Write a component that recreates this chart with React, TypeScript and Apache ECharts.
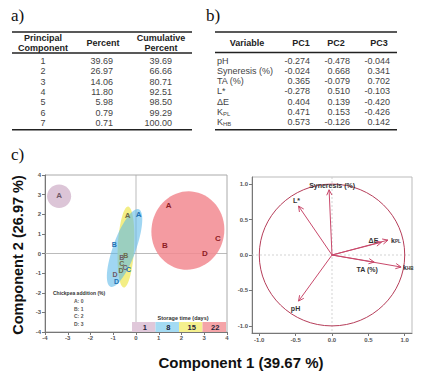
import React, { useEffect, useRef } from "react";
import * as echarts from "echarts";

// ---------- Table a) ----------
const pcComponents = ["1", "2", "3", "4", "5", "6", "7"];
const pcPercent = ["39.69", "26.97", "14.06", "11.80", "5.98", "0.79", "0.71"];
const pcCumulative = ["39.69", "66.66", "80.71", "92.51", "98.50", "99.29", "100.00"];

// ---------- Table b) ----------
const loadVariables = ["pH", "Syneresis (%)", "TA (%)", "L*", "ΔE", "K{sub|PL}", "K{sub|HB}"];
const loadPC1 = ["-0.274", "-0.024", "0.365", "-0.278", "0.404", "0.471", "0.573"];
const loadPC2 = ["-0.478", "0.668", "-0.079", "0.510", "0.139", "0.153", "-0.126"];
const loadPC3 = ["-0.044", "0.341", "0.702", "-0.103", "-0.420", "-0.426", "0.142"];

// ---------- Score plot ----------
const storageDays = ["1", "8", "15", "22"];
const chickpeaLevels = ["A: 0", "B: 1", "C: 2", "D: 3"];
const sampleLetters = ["A", "B", "C", "D"];
// [PC1, PC2] for samples A, B, C, D
const scoresDay1 = [[-3.38, 2.95], [-0.62, -0.18], [-0.48, -0.7], [-0.92, -1.08]];
const scoresDay8 = [[0.12, 2.0], [-0.95, 0.45], [-0.33, -0.8], [-0.86, -1.43]];
const scoresDay15 = [[-0.37, 1.95], [-0.45, -0.12], [-0.62, -0.52], [-0.66, -0.88]];
const scoresDay22 = [[1.44, 2.45], [1.27, 0.41], [3.6, 0.77], [3.03, -0.02]];
// group ellipses: [centerX, centerY, semiAxisX, semiAxisY, clockwiseTiltDeg, dayIndex]
const groupEllipses = [
  [-3.38, 2.92, 0.53, 0.6, 0, 0],
  [2.28, 1.17, 1.6, 2.0, 10, 3],
  [-0.44, 0.33, 0.36, 2.07, 3, 2],
  [-0.5, 0.28, 0.5, 2.1, 20, 1],
];

// ---------- Biplot ----------
const biplotVariables = ["pH", "Syneresis (%)", "TA (%)", "L*", "ΔE", "k{sub|PL}", "k{sub|HB}"];
const biplotX = [-0.46, -0.04, 0.58, -0.46, 0.68, 0.77, 0.95];
const biplotY = [-0.65, 0.92, -0.1, 0.69, 0.18, 0.21, -0.17];
const biplotTicks = [-1, -0.5, 0, 0.5, 1];

// ---------- styles / layout ----------
const FONT = "'Liberation Sans', Arial, Helvetica, sans-serif";
const SERIF = "'Liberation Serif', 'Times New Roman', serif";
const ellipseFill = ["#dcc5d7", "#5bb8e8", "#f2ec78", "#f28a90"];
const ellipseOpacity = [1, 0.58, 0.9, 0.85];
const legendFill = ["#e0c8da", "#a4dbf3", "#f5f08e", "#f5a4a8"];
const letterColors = ["#6e5a68", "#2271b3", "#6b6b48", "#8e1b25"];
const VEC = "#c9496b";
const CIRCLE = "#b63e5a";
const labelPlacement: [number, number, string][] = [
  [-3, 7, "center"],
  [3, -4, "center"],
  [-7, 7, "center"],
  [-2, -6, "center"],
  [-8, -2, "center"],
  [3, 0, "left"],
  [2, 0, "left"],
];

function txt(x: number, y: number, text: string, o: any = {}) {
  const size = o.size ?? 9;
  const color = o.color ?? "#333";
  return {
    type: "text",
    x,
    y,
    z: 100,
    silent: true,
    rotation: o.rot ?? 0,
    style: {
      text,
      fontFamily: o.family ?? FONT,
      fontSize: size,
      fontWeight: o.bold ? "bold" : "normal",
      fill: color,
      align: o.align ?? "left",
      verticalAlign: "middle",
      rich: {
        sub: { fontFamily: FONT, fontSize: size * 0.65, fill: color, verticalAlign: "bottom", padding: [size * 0.35, 0, 0, 0] },
      },
    },
  };
}
function hline(x1: number, x2: number, y: number, w: number) {
  return { type: "line", z: 100, silent: true, shape: { x1, y1: y, x2, y2: y }, style: { stroke: "#222", lineWidth: w } };
}

function buildGraphic() {
  const els: any[] = [];
  // Table a
  els.push(txt(11, 15, "a)", { family: SERIF, size: 17, color: "#111" }));
  const aL = 12, aR = 192, row0 = 61, rowH = 10.3;
  els.push(hline(aL, aR, 32, 1.5));
  els.push(txt(43, 37.5, "Principal", { bold: true, align: "center", color: "#222" }));
  els.push(txt(43, 47.5, "Component", { bold: true, align: "center", color: "#222" }));
  els.push(txt(103, 43, "Percent", { bold: true, align: "center", color: "#222" }));
  els.push(txt(161, 37.5, "Cumulative", { bold: true, align: "center", color: "#222" }));
  els.push(txt(161, 47.5, "Percent", { bold: true, align: "center", color: "#222" }));
  els.push(hline(aL, aR, 53, 1.3));
  pcComponents.forEach((c, i) => {
    const y = row0 + i * rowH;
    els.push(txt(43, y, c, { align: "center", color: "#444" }));
    els.push(txt(113, y, pcPercent[i], { align: "right", color: "#444" }));
    els.push(txt(172, y, pcCumulative[i], { align: "right", color: "#444" }));
  });
  const bottomY = row0 + (pcComponents.length - 1) * rowH + 7;
  els.push(hline(aL, aR, bottomY, 1.5));

  // Table b
  els.push(txt(206, 15, "b)", { family: SERIF, size: 17, color: "#111" }));
  const bL = 215, bR = 397;
  els.push(hline(bL, bR, 32, 1.5));
  els.push(txt(247, 42.5, "Variable", { bold: true, align: "center", color: "#222" }));
  els.push(txt(301, 42.5, "PC1", { bold: true, align: "center", color: "#222" }));
  els.push(txt(336, 42.5, "PC2", { bold: true, align: "center", color: "#222" }));
  els.push(txt(379, 42.5, "PC3", { bold: true, align: "center", color: "#222" }));
  els.push(hline(bL, bR, 52.5, 1.3));
  loadVariables.forEach((v, i) => {
    const y = row0 - 0.5 + i * rowH;
    els.push(txt(217, y, v, { color: "#444" }));
    els.push(txt(310, y, loadPC1[i], { align: "right", color: "#444" }));
    els.push(txt(350, y, loadPC2[i], { align: "right", color: "#444" }));
    els.push(txt(390, y, loadPC3[i], { align: "right", color: "#444" }));
  });
  els.push(hline(bL, bR, bottomY, 1.5));

  // c)
  els.push(txt(11, 154, "c)", { family: SERIF, size: 17, color: "#111" }));

  // axis titles
  els.push(txt(241, 362, "Component 1 (39.67 %)", { bold: true, size: 15, align: "center", color: "#111" }));
  els.push(txt(18, 255, "Component 2 (26.97 %)", { bold: true, size: 14.5, align: "center", color: "#111", rot: Math.PI / 2 }));

  // chickpea legend
  els.push(txt(53, 293, "Chickpea addition (%)", { bold: true, size: 5, color: "#333" }));
  chickpeaLevels.forEach((c, i) => {
    els.push(txt(74, 301 + i * 7.7, c, { bold: true, size: 5, color: "#555" }));
  });

  // storage time legend
  els.push(txt(183, 318, "Storage time (days)", { bold: true, size: 5.5, color: "#333", align: "center" }));
  const bw = 23.5, bx = 132;
  storageDays.forEach((d, i) => {
    els.push({
      type: "rect",
      z: 99,
      silent: true,
      shape: { x: bx + i * bw, y: 322, width: bw, height: 10 },
      style: { fill: legendFill[i] },
    });
    els.push(txt(bx + i * bw + bw / 2 + 1, 327.5, d, { bold: true, size: 7.5, color: "#1f1f3a", align: "center" }));
  });
  return els;
}

function axisCommon(extra: any = {}) {
  return {
    type: "value",
    axisLine: { show: true, onZero: false, lineStyle: { color: "#777", width: 1 } },
    axisTick: { show: true, length: 3, inside: false, lineStyle: { color: "#777" } },
    axisLabel: { fontSize: 6, fontWeight: "bold", color: "#555", margin: 3, fontFamily: FONT, showMinLabel: true, showMaxLabel: true },
    splitLine: { show: false },
    ...extra,
  };
}

function buildOption() {
  const scoreGroups = [scoresDay1, scoresDay8, scoresDay15, scoresDay22];
  const letterData: number[][] = [];
  scoreGroups.forEach((g, gi) => g.forEach((p, li) => letterData.push([p[0], p[1], gi, li])));
  const vecData = biplotX.map((x, i) => [x, biplotY[i], i]);

  const bipAxis = (extra: any) =>
    axisCommon({
      min: -1.1,
      max: 1.1,
      ...extra,
    });

  return {
    animation: false,
    textStyle: { fontFamily: FONT },
    grid: [
      { left: 45, top: 175, width: 182, height: 157, show: true, borderColor: "#aaa", borderWidth: 1 },
      { left: 252, top: 177, width: 160, height: 156, show: true, borderColor: "#bbb", borderWidth: 1 },
    ],
    xAxis: [
      axisCommon({ gridIndex: 0, min: -4, max: 4, interval: 1 }),
      bipAxis({
        gridIndex: 1,
        axisTick: { show: true, length: 3, lineStyle: { color: "#777" }, customValues: biplotTicks },
        axisLabel: { fontSize: 6, fontWeight: "bold", color: "#555", margin: 4, customValues: biplotTicks, formatter: (v: number) => v.toFixed(1) },
      }),
    ],
    yAxis: [
      axisCommon({ gridIndex: 0, min: -4, max: 4, interval: 1, axisLabel: { fontSize: 6, fontWeight: "bold", color: "#555", margin: 4, showMinLabel: true, showMaxLabel: true } }),
      bipAxis({
        gridIndex: 1,
        axisTick: { show: true, length: 3, lineStyle: { color: "#777" }, customValues: biplotTicks },
        axisLabel: { fontSize: 6, fontWeight: "bold", color: "#555", margin: 4, customValues: biplotTicks, formatter: (v: number) => v.toFixed(1) },
      }),
    ],
    graphic: { elements: buildGraphic() },
    series: [
      // crosshair for score plot
      {
        type: "custom",
        xAxisIndex: 0,
        yAxisIndex: 0,
        z: 1,
        silent: true,
        data: [[0, 0]],
        encode: { x: 0, y: 1 },
        renderItem: (params: any, api: any) => {
          const c = api.coord([0, 0]);
          const cs = params.coordSys;
          return {
            type: "group",
            children: [
              { type: "line", shape: { x1: c[0], y1: cs.y, x2: c[0], y2: cs.y + cs.height }, style: { stroke: "#aaa", lineWidth: 0.8 } },
              { type: "line", shape: { x1: cs.x, y1: c[1], x2: cs.x + cs.width, y2: c[1] }, style: { stroke: "#aaa", lineWidth: 0.8 } },
            ],
          };
        },
      },
      // ellipses
      {
        type: "custom",
        xAxisIndex: 0,
        yAxisIndex: 0,
        z: 2,
        silent: true,
        data: groupEllipses,
        encode: { x: 0, y: 1 },
        renderItem: (params: any, api: any) => {
          const c = api.coord([api.value(0), api.value(1)]);
          const s = api.size([api.value(2), api.value(3)]);
          const g = api.value(5);
          return {
            type: "ellipse",
            x: c[0],
            y: c[1],
            rotation: (-api.value(4) * Math.PI) / 180,
            shape: { cx: 0, cy: 0, rx: s[0], ry: s[1] },
            style: { fill: ellipseFill[g], opacity: ellipseOpacity[g] },
          };
        },
      },
      // letters
      {
        type: "custom",
        xAxisIndex: 0,
        yAxisIndex: 0,
        z: 3,
        silent: true,
        data: letterData,
        encode: { x: 0, y: 1 },
        renderItem: (params: any, api: any) => {
          const c = api.coord([api.value(0), api.value(1)]);
          const g = api.value(2);
          const li = api.value(3);
          const inCluster = g !== 3 && li !== 0;
          return {
            type: "text",
            x: c[0],
            y: c[1],
            style: {
              text: sampleLetters[li],
              fill: letterColors[g],
              fontSize: inCluster ? 7 : 8,
              fontWeight: "bold",
              fontFamily: FONT,
              align: "center",
              verticalAlign: "middle",
            },
          };
        },
      },
      // biplot crosshair
      {
        type: "custom",
        xAxisIndex: 1,
        yAxisIndex: 1,
        z: 1,
        silent: true,
        data: [[0, 0]],
        encode: { x: 0, y: 1 },
        renderItem: (params: any, api: any) => {
          const c = api.coord([0, 0]);
          const cs = params.coordSys;
          const st = { stroke: "#c8c8c8", lineWidth: 0.8, lineDash: [2, 2] };
          return {
            type: "group",
            children: [
              { type: "line", shape: { x1: c[0], y1: cs.y, x2: c[0], y2: cs.y + cs.height }, style: st },
              { type: "line", shape: { x1: cs.x, y1: c[1], x2: cs.x + cs.width, y2: c[1] }, style: st },
            ],
          };
        },
      },
      // unit circle
      {
        type: "custom",
        xAxisIndex: 1,
        yAxisIndex: 1,
        z: 2,
        silent: true,
        data: [[0, 0, 1]],
        encode: { x: 0, y: 1 },
        renderItem: (params: any, api: any) => {
          const c = api.coord([api.value(0), api.value(1)]);
          const s = api.size([api.value(2), api.value(2)]);
          return {
            type: "ellipse",
            shape: { cx: c[0], cy: c[1], rx: s[0], ry: s[1] },
            style: { fill: "none", stroke: CIRCLE, lineWidth: 1 },
          };
        },
      },
      // vectors
      {
        type: "custom",
        xAxisIndex: 1,
        yAxisIndex: 1,
        z: 3,
        silent: true,
        data: vecData,
        encode: { x: 0, y: 1 },
        renderItem: (params: any, api: any) => {
          const o = api.coord([0, 0]);
          const p = api.coord([api.value(0), api.value(1)]);
          const i = api.value(2);
          const a = Math.atan2(p[1] - o[1], p[0] - o[0]);
          const L = 6, s = 0.45;
          const head = [
            [p[0] - L * Math.cos(a - s), p[1] - L * Math.sin(a - s)],
            [p[0], p[1]],
            [p[0] - L * Math.cos(a + s), p[1] - L * Math.sin(a + s)],
          ];
          const lp = labelPlacement[i];
          return {
            type: "group",
            children: [
              { type: "line", shape: { x1: o[0], y1: o[1], x2: p[0], y2: p[1] }, style: { stroke: VEC, lineWidth: 1 } },
              { type: "polyline", shape: { points: head }, style: { stroke: VEC, fill: "none", lineWidth: 1 } },
              {
                type: "text",
                x: p[0] + lp[0],
                y: p[1] + lp[1],
                style: {
                  text: biplotVariables[i],
                  fontFamily: FONT,
                  fontSize: 7,
                  fontWeight: "bold",
                  fill: "#333",
                  align: lp[2],
                  verticalAlign: "middle",
                  rich: { sub: { fontFamily: FONT, fontSize: 4.5, fontWeight: "bold", fill: "#333", verticalAlign: "bottom", padding: [3, 0, 0, 0] } },
                },
              },
            ],
          };
        },
      },
    ],
  };
}

export default function App() {
  const ref = useRef<HTMLDivElement>(null);
  useEffect(() => {
    const chart = echarts.init(ref.current!, null, { renderer: "svg" });
    chart.setOption(buildOption() as any);
    return () => chart.dispose();
  }, []);
  return (
    <div
      ref={ref}
      style={{ position: "absolute", left: 0, top: 0, width: 429, height: 382, background: "#fff" }}
    />
  );
}
